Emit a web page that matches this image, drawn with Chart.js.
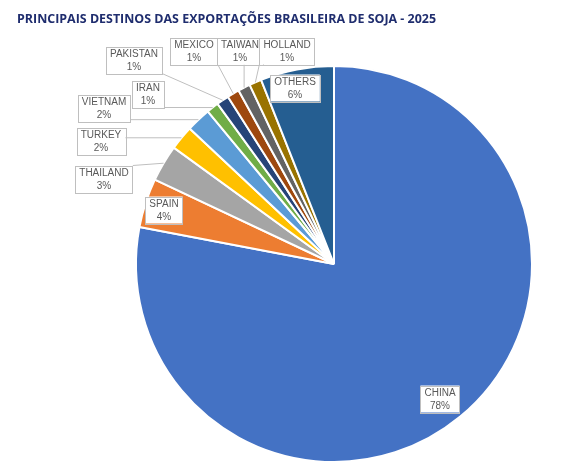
<!DOCTYPE html>
<html>
<head>
<meta charset="utf-8">
<script src="https://cdn.jsdelivr.net/npm/chart.js@4.4.0/dist/chart.umd.min.js"></script>
<style>
  html, body { margin: 0; padding: 0; background: #fff; }
  #wrap { width: 571px; height: 476px; }
</style>
</head>
<body>
<div id="wrap"><canvas id="pieChart" width="571" height="476"></canvas></div>
<script>
const chartTitle = "PRINCIPAIS DESTINOS DAS EXPORTAÇÕES BRASILEIRA DE SOJA - 2025";

const countries = ["CHINA", "SPAIN", "THAILAND", "TURKEY", "VIETNAM", "IRAN",
  "PAKISTAN", "MEXICO", "TAIWAN", "HOLLAND", "OTHERS"];

const shares = [78, 4, 3, 2, 2, 1, 1, 1, 1, 1, 6];

const sliceColors = ["#4472C4", "#ED7D31", "#A5A5A5", "#FFC000", "#5B9BD5", "#70AD47",
  "#264478", "#9E480E", "#636363", "#997300", "#255E91"];

// where each callout box sits (center x, center y)
const labelBoxes = [
  [440, 399], [164, 210], [104, 179], [101, 141], [104, 108], [148, 94],
  [134, 60], [194, 51], [240, 51], [287, 51], [295, 88]
];

// title + callout labels with leader lines
const calloutPlugin = {
  id: "callouts",
  afterDraw(chart) {
    const ctx = chart.ctx;
    ctx.save();

    ctx.fillStyle = "#1F2D6E";
    ctx.font = "bold 13px 'Open Sans'";
    ctx.textBaseline = "alphabetic";
    ctx.textAlign = "left";
    ctx.fillText(chartTitle, 17, 23, 419);

    const arcs = chart.getDatasetMeta(0).data;
    ctx.font = "10px 'Liberation Sans'";
    ctx.textAlign = "center";
    ctx.textBaseline = "middle";

    arcs.forEach((arc, i) => {
      const p = arc.getProps(["x", "y", "startAngle", "endAngle", "outerRadius"], true);
      const mid = (p.startAngle + p.endAngle) / 2;
      const ax = p.x + Math.cos(mid) * p.outerRadius;
      const ay = p.y + Math.sin(mid) * p.outerRadius;

      const line1 = countries[i];
      const line2 = shares[i] + "%";
      const w = Math.max(ctx.measureText(line1).width, ctx.measureText(line2).width) + 8;
      const h = 27;
      const [cx, cy] = labelBoxes[i];
      const x0 = cx - w / 2, y0 = cy - h / 2;

      const nx = Math.min(Math.max(ax, x0), x0 + w);
      const ny = Math.min(Math.max(ay, y0), y0 + h);
      if (Math.hypot(ax - nx, ay - ny) > 8) {
        ctx.strokeStyle = "#BFBFBF";
        ctx.lineWidth = 1;
        ctx.beginPath();
        ctx.moveTo(nx, ny);
        ctx.lineTo(ax, ay);
        ctx.stroke();
      }

      ctx.fillStyle = "#FFFFFF";
      ctx.fillRect(x0, y0, w, h);
      ctx.strokeStyle = "#BFBFBF";
      ctx.lineWidth = 1;
      ctx.strokeRect(Math.round(x0) + 0.5, Math.round(y0) + 0.5, Math.round(w), h);

      ctx.fillStyle = "#595959";
      ctx.fillText(line1, cx, cy - 6);
      ctx.fillText(line2, cx, cy + 7);
    });

    ctx.restore();
  }
};

new Chart(document.getElementById("pieChart"), {
  type: "pie",
  data: {
    labels: countries,
    datasets: [{
      data: shares,
      backgroundColor: sliceColors,
      borderColor: "#FFFFFF",
      borderWidth: 2,
      hoverOffset: 0
    }]
  },
  options: {
    responsive: false,
    animation: false,
    layout: {
      padding: { top: 65, bottom: 13, left: 135, right: 38 }
    },
    plugins: {
      legend: { display: false },
      tooltip: { enabled: false },
      title: { display: false }
    }
  },
  plugins: [calloutPlugin]
});
</script>
</body>
</html>
